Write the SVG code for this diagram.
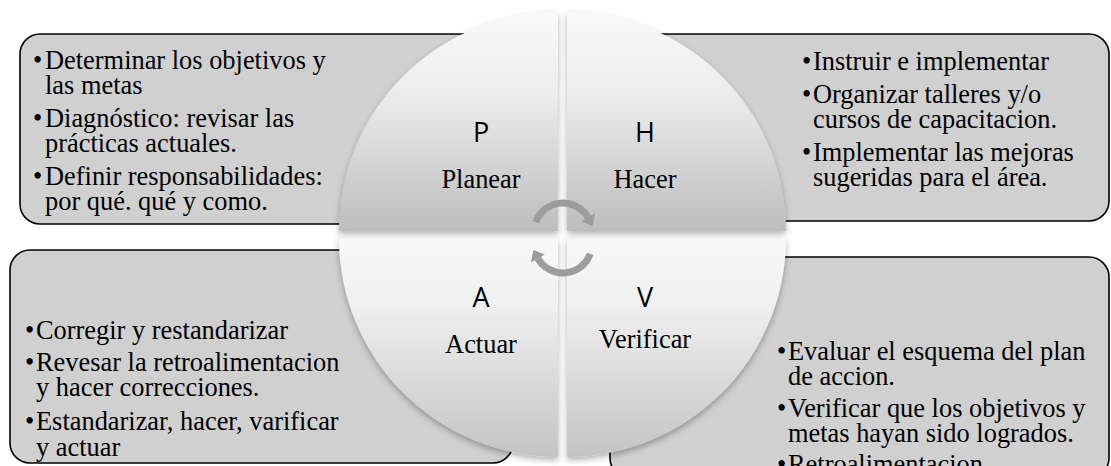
<svg xmlns="http://www.w3.org/2000/svg" width="1111" height="466" viewBox="0 0 1111 466">
<style>
.box{fill:#d0d0d0;stroke:#000;stroke-width:1.6}
.t{font-family:"Liberation Serif","Times New Roman",serif;font-size:26.4px;fill:#000}
.lbl{font-family:"Liberation Serif","Times New Roman",serif;font-size:26.4px;fill:#000;text-anchor:middle}
.ltr{font-family:"Open Sans","Liberation Sans",sans-serif;font-size:27px;fill:#000;text-anchor:middle}
.arc{fill:none;stroke:#9c9c9c;stroke-width:7}
.head{fill:#9c9c9c}
</style>
<defs>
<linearGradient id="gTop" x1="0" y1="0" x2="0" y2="1">
<stop offset="0" stop-color="#f9f9f9"/>
<stop offset="0.35" stop-color="#eeeeee"/>
<stop offset="1" stop-color="#bdbdbd"/>
</linearGradient>
<linearGradient id="gBot" x1="0" y1="0" x2="0" y2="1">
<stop offset="0" stop-color="#f8f8f8"/>
<stop offset="0.3" stop-color="#f0f0f0"/>
<stop offset="1" stop-color="#c4c4c4"/>
</linearGradient>
<filter id="sh" x="-10%" y="-10%" width="120%" height="120%">
<feDropShadow dx="0" dy="3" stdDeviation="3" flood-color="#000" flood-opacity="0.3"/>
</filter>
</defs>
<rect width="1111" height="466" fill="#fff"/>

<g id="box-planear">
<rect class="box" x="20" y="34" width="530" height="190" rx="20"/>
<text class="t" y="69"><tspan x="33">•</tspan><tspan x="45">Determinar los objetivos y</tspan></text>
<text class="t" x="45" y="94">las metas</text>
<text class="t" y="127"><tspan x="33">•</tspan><tspan x="45">Diagnóstico: revisar las</tspan></text>
<text class="t" x="45" y="152">prácticas actuales.</text>
<text class="t" y="185"><tspan x="33">•</tspan><tspan x="45">Definir responsabilidades:</tspan></text>
<text class="t" x="45" y="210">por qué. qué y como.</text>
</g>

<g id="box-hacer">
<rect class="box" x="575" y="34" width="534" height="187" rx="20"/>
<text class="t" y="70"><tspan x="802">•</tspan><tspan x="813">Instruir e implementar</tspan></text>
<text class="t" y="103"><tspan x="802">•</tspan><tspan x="813">Organizar talleres y/o</tspan></text>
<text class="t" x="813" y="128">cursos de capacitacion.</text>
<text class="t" y="161"><tspan x="802">•</tspan><tspan x="813">Implementar las mejoras</tspan></text>
<text class="t" x="813" y="186">sugeridas para el área.</text>
</g>

<g id="box-actuar">
<rect class="box" x="10" y="250" width="503" height="213" rx="20"/>
<text class="t" y="339"><tspan x="25">•</tspan><tspan x="36">Corregir y restandarizar</tspan></text>
<text class="t" y="371"><tspan x="25">•</tspan><tspan x="36">Revesar la retroalimentacion</tspan></text>
<text class="t" x="36" y="396">y hacer correcciones.</text>
<text class="t" y="430"><tspan x="25">•</tspan><tspan x="36">Estandarizar, hacer, varificar</tspan></text>
<text class="t" x="36" y="456">y actuar</text>
</g>

<g id="box-verificar">
<rect class="box" x="610" y="257" width="499" height="221" rx="20"/>
<text class="t" y="360"><tspan x="777">•</tspan><tspan x="788">Evaluar el esquema del plan</tspan></text>
<text class="t" x="788" y="385">de accion.</text>
<text class="t" y="417"><tspan x="777">•</tspan><tspan x="788">Verificar que los objetivos y</tspan></text>
<text class="t" x="788" y="442">metas hayan sido logrados.</text>
<text class="t" y="473"><tspan x="777">•</tspan><tspan x="788">Retroalimentacion</tspan></text>
</g>

<g id="quad-p">
<path d="M558 231 L339 231 A219 219 0 0 1 558 12 Z" fill="url(#gTop)" filter="url(#sh)"/>
<text class="ltr" x="481" y="142">P</text>
<text class="lbl" x="481" y="188">Planear</text>
</g>
<g id="quad-h">
<path d="M567 231 L567 12 A219 219 0 0 1 786 231 Z" fill="url(#gTop)" filter="url(#sh)"/>
<text class="ltr" x="645" y="142">H</text>
<text class="lbl" x="645" y="188">Hacer</text>
</g>
<g id="quad-a">
<path d="M558 238 L558 457 A219 219 0 0 1 339 238 Z" fill="url(#gBot)" filter="url(#sh)"/>
<text class="ltr" x="481" y="307">A</text>
<text class="lbl" x="481" y="353">Actuar</text>
</g>
<g id="quad-v">
<path d="M567 238 L786 238 A219 219 0 0 1 567 457 Z" fill="url(#gBot)" filter="url(#sh)"/>
<text class="ltr" x="645" y="307">V</text>
<text class="lbl" x="645" y="348">Verificar</text>
</g>

<g id="connectors">
<path class="arc" d="M535.75 222.1 A29 29 0 0 1 588.1 217.5"/>
<polygon class="head" points="595,213.5 592.6,226 581.2,221.5"/>
<path class="arc" d="M590.25 253.9 A29 29 0 0 1 537.9 258.5"/>
<polygon class="head" points="531,262.5 533.4,250 544.8,254.5"/>
</g>
</svg>
